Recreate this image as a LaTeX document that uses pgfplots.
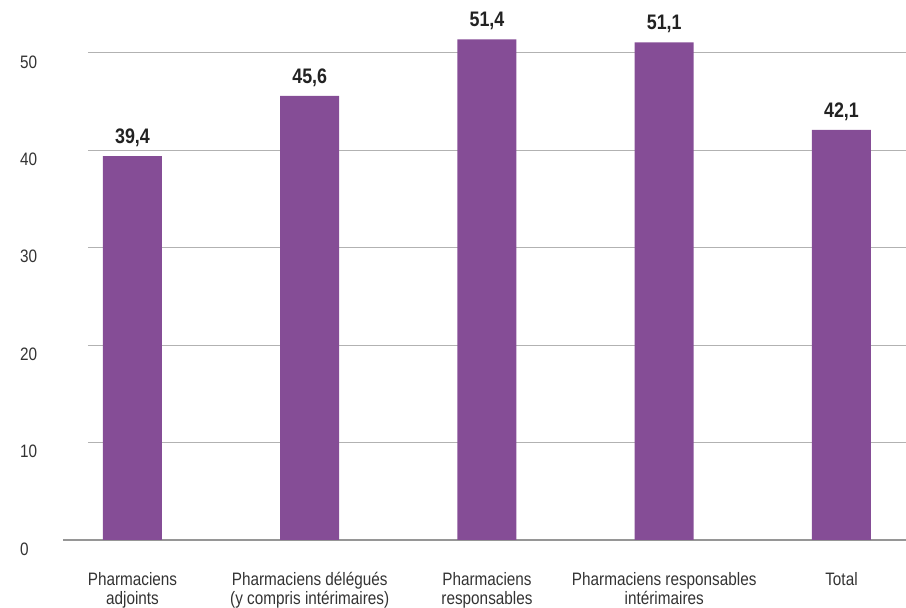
\documentclass[border=0pt]{standalone}
\usepackage{fontspec}
\setmainfont{Liberation Sans}[FakeStretch=0.85]
\usepackage{pgfplots}
\pgfplotsset{compat=1.18}
\definecolor{barpurple}{RGB}{133,77,150}
\definecolor{gridgray}{RGB}{178,178,178}
\definecolor{basegray}{RGB}{150,150,150}
\definecolor{txt}{RGB}{51,51,51}
\definecolor{valtxt}{RGB}{34,34,34}
\begin{document}
\begin{tikzpicture}
\path[use as bounding box] (0,0) rectangle (906pt,608pt);
\begin{axis}[
  at={(63pt,68pt)}, anchor=south west,
  scale only axis, width=843pt, height=540pt,
  xmin=-0.392, xmax=4.364, ymin=0, ymax=55.44,
  axis line style={draw=none},
  major tick length=0pt,
  ytick={0,10,20,30,40,50},
  xtick={0,1,2,3,4},
  xticklabels={{Pharmaciens\\adjoints},{Pharmaciens délégués\\(y compris intérimaires)},{Pharmaciens\\responsables},{Pharmaciens responsables\\intérimaires},{Total}},
  /pgf/number format/assume math mode=true,
  yticklabel style={anchor=west, xshift=-43pt, yshift=-9pt, inner sep=0pt, font=\fontsize{18}{19}\selectfont, text=txt},
  xticklabel style={anchor=north, yshift=-32pt, inner sep=0pt, align=center, font=\fontsize{18}{19}\selectfont, text=txt},
  clip=false,
]
\pgfplotsinvokeforeach{10,20,30,40,50}{
  \draw[gridgray, line width=1pt] (axis cs:-0.251,#1) -- (axis cs:4.364,#1);
}
\draw[basegray, line width=1.2pt] (axis cs:-0.392,0) -- (axis cs:4.364,0);
\addplot[ybar, bar width=59pt, fill=barpurple, draw=none,
  nodes near coords={\pgfmathprintnumber[use comma,fixed,fixed zerofill,precision=1,assume math mode=true]{\pgfplotspointmeta}},
  nodes near coords style={anchor=south, inner sep=0pt, yshift=9pt, font=\fontsize{21}{21}\selectfont\bfseries, text=valtxt},
] coordinates {(0,39.4) (1,45.6) (2,51.4) (3,51.1) (4,42.1)};
\end{axis}
\end{tikzpicture}
\end{document}
